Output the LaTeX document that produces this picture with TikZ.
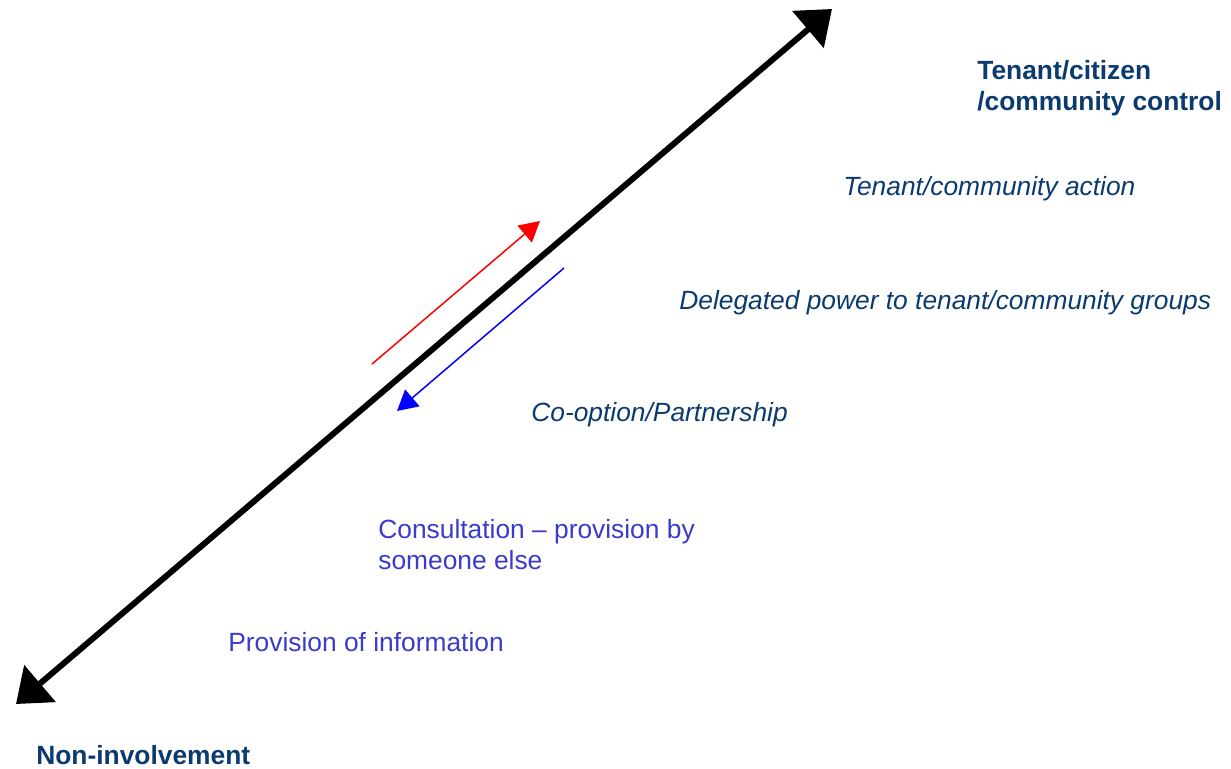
\documentclass[tikz,border=0pt]{standalone}
\usepackage{fontspec}
\setmainfont{Liberation Sans}
\usetikzlibrary{arrows.meta}

\definecolor{navy}{HTML}{0B3A6E}
\definecolor{lilac}{HTML}{3A3ACC}

\tikzset{
	rung/.style={anchor=west, inner sep=0pt, align=left, text=navy,
		font=\fontsize{15}{17.6}\selectfont\itshape},
	rungbold/.style={rung, font=\fontsize{15}{17.6}\selectfont\bfseries},
	rungsoft/.style={rung, text=lilac, font=\fontsize{15}{17.6}\selectfont},
	ladder/.style={line width=3.4pt, {Triangle[length=18pt,width=27pt]}-{Triangle[length=18pt,width=27pt]}},
	push/.style={line width=0.85pt, -{Triangle[length=11.5pt,width=12.5pt]}}
}

\begin{document}
\begin{tikzpicture}[x=0.02cm, y=-0.02cm]
		\useasboundingbox (0,0) rectangle (1231,768);

		% the ladder
		\coordinate (low) at (16,704);
		\coordinate (high) at (832,9);
		\draw[ladder] (low) -- (high);

		% up and down
		\coordinate (upfrom) at (372,364);
		\coordinate (upto) at (540,221);
		\draw[push, red] (upfrom) -- (upto);
		\coordinate (downfrom) at (564,268);
		\coordinate (downto) at (397,411);
		\draw[push, blue] (downfrom) -- (downto);

		% the rungs
		\node[rungbold] (control) at (977,88) {Tenant/citizen\\/community control};
		\node[rung] (action) at (843,189) {Tenant/community action};
		\node[rung] (delegated) at (679,303) {Delegated power to tenant/community groups};
		\node[rung] (coopt) at (531,415) {Co-option/Partnership};
		\node[rungsoft] (consult) at (378,545) {Consultation -- provision by\\someone else};
		\node[rungsoft] (inform) at (228,642) {Provision of information};
		\node[rungbold] (none) at (36,755) {Non-involvement};
	\end{tikzpicture}
\end{document}
